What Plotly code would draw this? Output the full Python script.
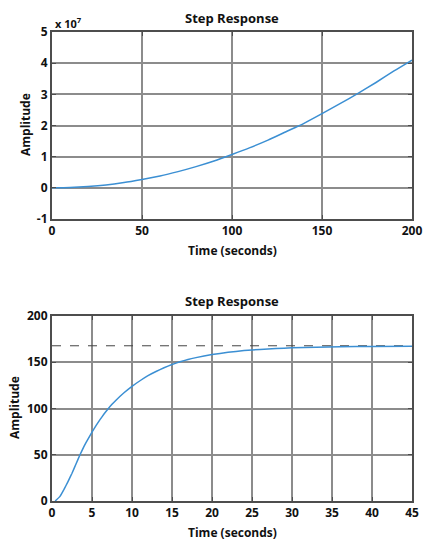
import plotly.graph_objects as go

# Top chart: step response (unstable, growing)
t_top = [0, 10, 20, 30, 40, 50, 60, 70, 80, 90, 100, 110, 120, 130, 140, 150, 160, 170, 180, 190, 200]
amp_top = [0, 0.01e7, 0.04e7, 0.09e7, 0.17e7, 0.27e7, 0.38e7, 0.52e7, 0.68e7, 0.86e7, 1.07e7,
           1.29e7, 1.53e7, 1.80e7, 2.07e7, 2.38e7, 2.70e7, 3.03e7, 3.38e7, 3.75e7, 4.10e7]
top_yticks = [-1e7, 0, 1e7, 2e7, 3e7, 4e7, 5e7]
top_yticktext = ["-1", "0", "1", "2", "3", "4", "5"]
top_xticks = [0, 50, 100, 150, 200]

# Bottom chart: step response (stable)
t_bot = [0.4, 1, 1.5, 2, 2.5, 3, 3.5, 4, 4.5, 5, 5.5, 6, 6.5, 7, 7.5, 8, 9, 10, 11, 12, 13, 14, 15,
         16, 17, 18, 20, 22, 24, 26, 28, 30, 33, 36, 40, 45]
amp_bot = [0, 5, 12.5, 21, 30, 40, 50, 59, 67, 74.5, 81.5, 88, 94, 99.5, 104.5, 109, 117, 124, 130, 135.5,
           140, 144, 147.5, 150.5, 153, 155, 158.3, 160.8, 162.6, 163.9, 164.9, 165.6, 166.3, 166.8, 167.1, 167.4]
steady_state = 167.8
bot_xticks = [0, 5, 10, 15, 20, 25, 30, 35, 40, 45]
bot_yticks = [0, 50, 100, 150, 200]

W, H = 425, 541
blue = "#3b8fd3"
gridc = "#8c8c8c"
framec = "#4d4d4d"
font = "Open Sans"

fig = go.Figure()
fig.add_trace(go.Scatter(x=t_top, y=amp_top, mode="lines", line=dict(color=blue, width=1.5, shape="spline", smoothing=0.6),
                         xaxis="x", yaxis="y", showlegend=False))
fig.add_trace(go.Scatter(x=[0, 45], y=[steady_state, steady_state], mode="lines",
                         line=dict(color="#444444", width=1, dash="dash"),
                         xaxis="x2", yaxis="y2", showlegend=False))
fig.add_trace(go.Scatter(x=t_bot, y=amp_bot, mode="lines", line=dict(color=blue, width=1.5, shape="spline", smoothing=0.3),
                         xaxis="x2", yaxis="y2", showlegend=False))

def px_y(p):
    return 1 - p / H

def px_x(p):
    return p / W

axis_common = dict(showgrid=True, gridcolor=gridc, gridwidth=1.5, showline=True, linecolor=framec,
                   linewidth=2, mirror="ticks", ticks="inside", ticklen=4, tickcolor=framec,
                   zeroline=False, automargin=False,
                   tickfont=dict(family=font, size=12, color="#111", weight="bold"))

fig.update_layout(
    width=W, height=H, margin=dict(l=0, r=0, t=0, b=0),
    paper_bgcolor="white", plot_bgcolor="white",
    xaxis=dict(domain=[px_x(52), px_x(412)], anchor="y", range=[0, 200], tickvals=top_xticks, **axis_common),
    yaxis=dict(domain=[px_y(219), px_y(32)], anchor="x", range=[-1e7, 5e7], tickvals=top_yticks,
               ticktext=top_yticktext, **axis_common),
    xaxis2=dict(domain=[px_x(52), px_x(412)], anchor="y2", range=[0, 45], tickvals=bot_xticks, **axis_common),
    yaxis2=dict(domain=[px_y(501), px_y(316)], anchor="x2", range=[0, 200], tickvals=bot_yticks, **axis_common),
)

title_font = dict(family=font, size=13, color="#111", weight="bold")
lab_font = dict(family=font, size=12, color="#111", weight="bold")
ann = [
    dict(text="Step Response", x=px_x(232), y=px_y(18), font=title_font),
    dict(text="Step Response", x=px_x(232), y=px_y(301), font=title_font),
    dict(text="Time (seconds)", x=px_x(232), y=px_y(250), font=lab_font),
    dict(text="Time (seconds)", x=px_x(232), y=px_y(532), font=lab_font),
    dict(text="Amplitude", x=px_x(25), y=px_y(125), font=lab_font, textangle=-90),
    dict(text="Amplitude", x=px_x(14), y=px_y(408), font=lab_font, textangle=-90),
    dict(text="x 10<sup>7</sup>", x=px_x(53), y=px_y(23), xanchor="left",
         font=dict(family=font, size=11, color="#111", weight="bold")),
]
for a in ann:
    a.setdefault("xanchor", "center")
    fig.add_annotation(xref="paper", yref="paper", showarrow=False, yanchor="middle", **a)

fig.write_html("out.html", config={"displayModeBar": False},
               post_script="document.body.style.margin='0';document.body.style.overflow='hidden';")
